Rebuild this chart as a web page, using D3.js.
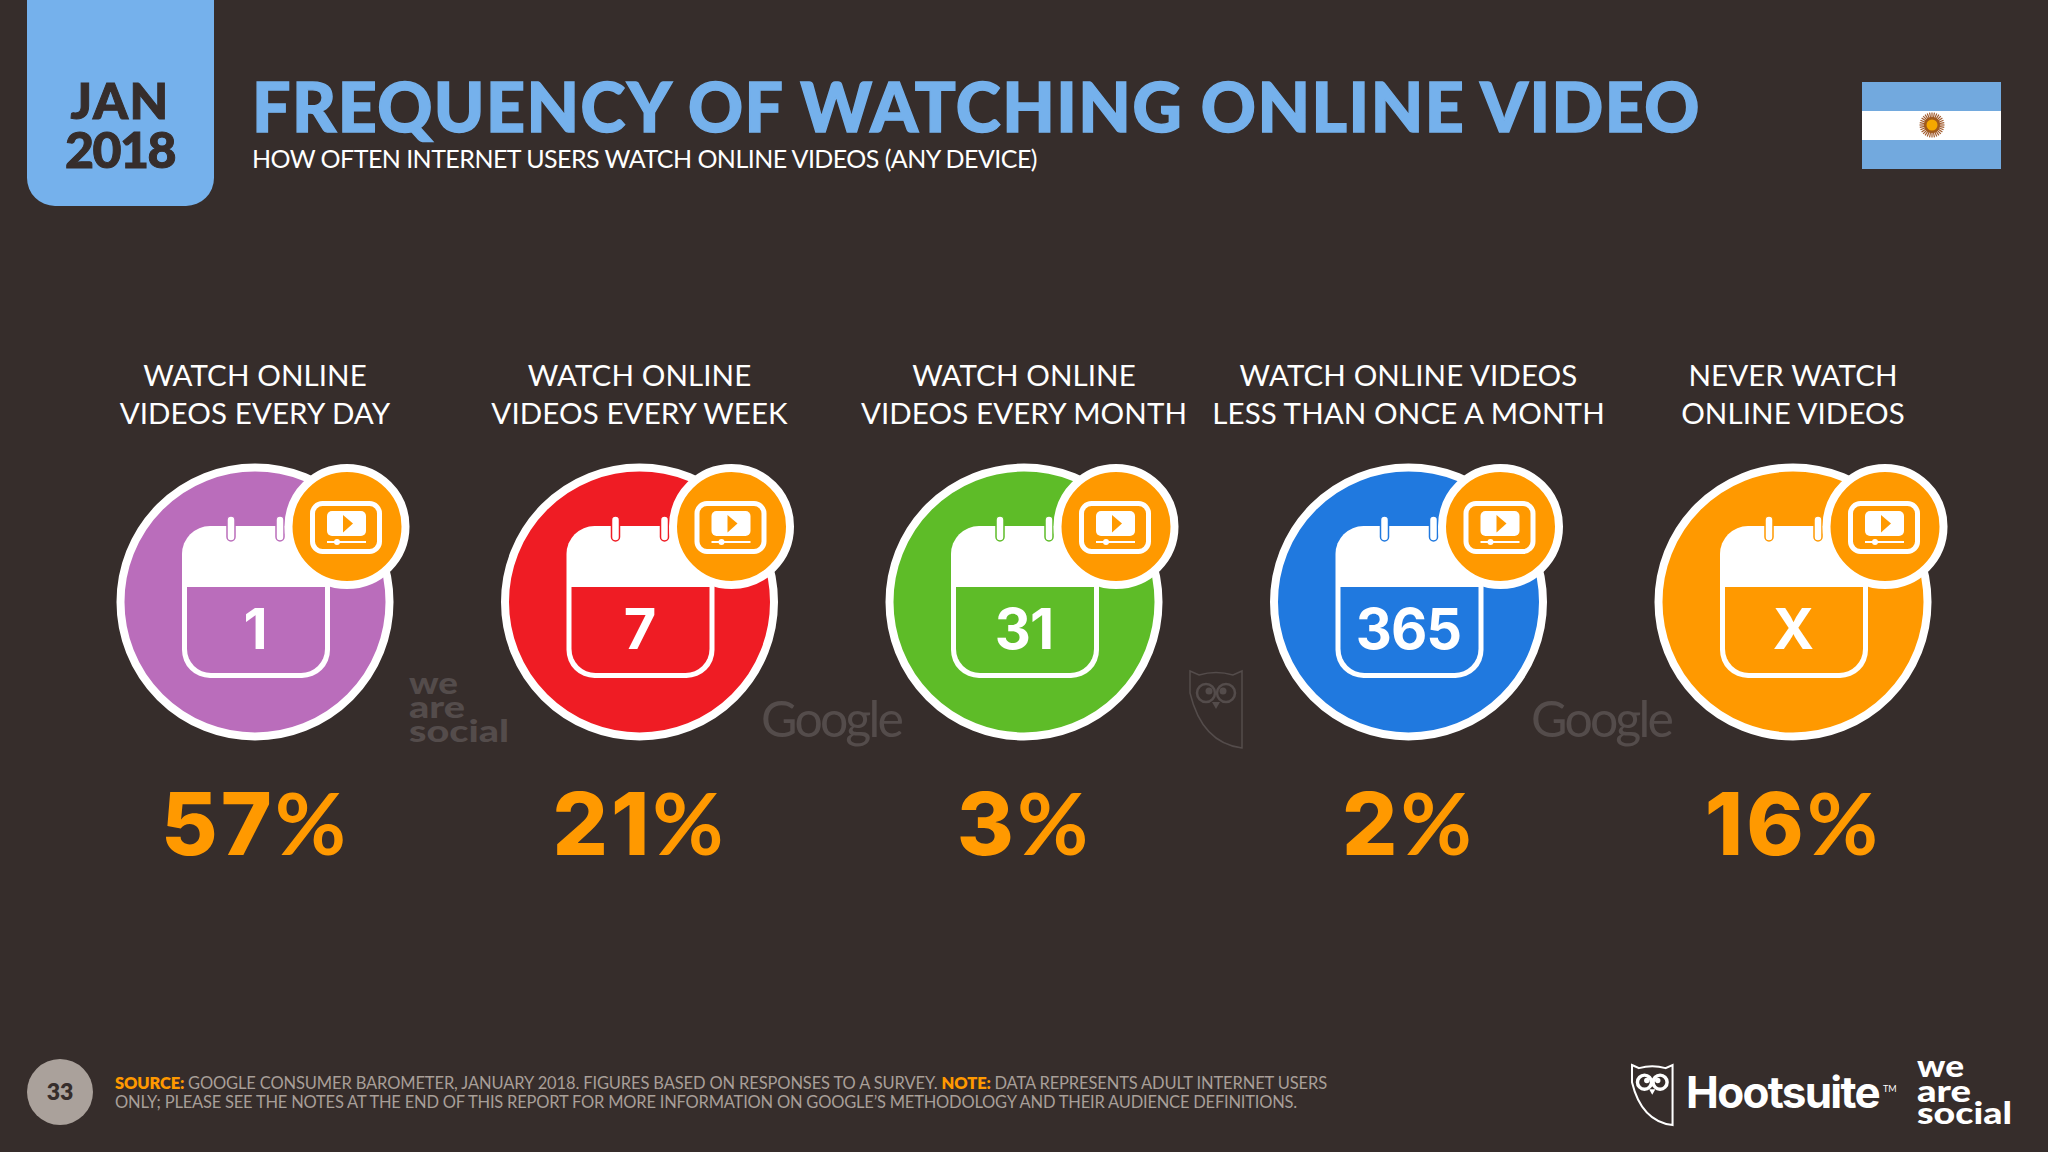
<!DOCTYPE html>
<html>
<head>
<meta charset="utf-8">
<script src="https://cdn.jsdelivr.net/npm/d3@7"></script>
<style>
  html, body { margin: 0; padding: 0; background: #362d2b; }
  svg { display: block; }
  text { font-family: Lato, sans-serif; }
</style>
</head>
<body>
<svg id="chart" width="2048" height="1152"></svg>
<script>
// Chart values
const categories = ['daily', 'weekly', 'monthly', 'rarely', 'never'];
const labelTop = ['WATCH ONLINE', 'WATCH ONLINE', 'WATCH ONLINE', 'WATCH ONLINE VIDEOS', 'NEVER WATCH'];
const labelBottom = ['VIDEOS EVERY DAY', 'VIDEOS EVERY WEEK', 'VIDEOS EVERY MONTH', 'LESS THAN ONCE A MONTH', 'ONLINE VIDEOS'];
const dayLabels = ['1', '7', '31', '365', 'X'];
const shares = [57, 21, 3, 2, 16];

const BG = '#362d2b';
const BLUE = '#75b1ec';
const ORANGE = '#ff9900';

const svg = d3.select('#chart');
const x = d3.scalePoint().domain(categories).range([255, 1793]);
const color = d3.scaleOrdinal()
    .domain(categories)
    .range(['#ba6dbb', '#ef1c24', '#5ebc28', '#2079df', '#ff9900']);

// Stretch or squeeze a text to a measured width with letter spacing
function fit(sel, width) {
    const node = sel.node();
    const n = node.textContent.length;
    const gap = (width - node.getComputedTextLength()) / n;
    sel.style('letter-spacing', gap + 'px');
    return sel;
}

svg.append('rect').attr('width', 2048).attr('height', 1152).attr('fill', BG);

// Date tab
svg.append('path')
    .attr('d', 'M27,0H214V178A28,28 0 0 1 186,206H55A28,28 0 0 1 27,178Z')
    .attr('fill', BLUE);
fit(svg.append('text').attr('x', 120).attr('y', 119).attr('text-anchor', 'middle')
    .attr('font-size', 50).attr('font-weight', 900).attr('fill', BG)
    .attr('stroke', BG).attr('stroke-width', 1).text('JAN'), 99);
fit(svg.append('text').attr('x', 120).attr('y', 168).attr('text-anchor', 'middle')
    .attr('font-size', 50).attr('font-weight', 900).attr('fill', BG)
    .attr('stroke', BG).attr('stroke-width', 1).text('2018'), 110);

// Title block
fit(svg.append('text').attr('x', 252).attr('y', 132)
    .attr('font-size', 68).attr('font-weight', 900).attr('fill', BLUE)
    .attr('stroke', BLUE).attr('stroke-width', 1.4)
    .text('FREQUENCY OF WATCHING ONLINE VIDEO'), 1449);
fit(svg.append('text').attr('x', 252).attr('y', 168)
    .attr('font-size', 25).attr('fill', '#fff')
    .text('HOW OFTEN INTERNET USERS WATCH ONLINE VIDEOS (ANY DEVICE)'), 785);

// Flag
svg.append('rect').attr('x', 1862).attr('y', 82).attr('width', 139).attr('height', 87).attr('fill', '#72a9de');
svg.append('rect').attr('x', 1862).attr('y', 111).attr('width', 139).attr('height', 29).attr('fill', '#fff');
const sun = svg.append('g').attr('transform', 'translate(1932,125)');
sun.selectAll('line').data(d3.range(32)).join('line')
    .attr('x2', d => 12.5 * Math.cos(d / 32 * 2 * Math.PI))
    .attr('y2', d => 12.5 * Math.sin(d / 32 * 2 * Math.PI))
    .attr('stroke', '#a05a2c').attr('stroke-width', 1.2);
sun.append('circle').attr('r', 8).attr('fill', '#a05a1c');
sun.append('circle').attr('r', 5.5).attr('fill', '#f5a800');

// Column labels
const labels = svg.append('g').selectAll('g').data(categories).join('g')
    .attr('transform', d => `translate(${x(d)},0)`)
    .attr('text-anchor', 'middle')
    .attr('fill', '#fff')
    .attr('font-size', 29.5)
    .style('letter-spacing', '0.1px');
labels.append('text').attr('y', 386).text((d, i) => labelTop[i]);
labels.append('text').attr('y', 424).text((d, i) => labelBottom[i]);

// Icons
const icons = svg.append('g').selectAll('g').data(categories).join('g')
    .attr('transform', d => `translate(${x(d)},602)`);

icons.append('circle').attr('r', 134.5).attr('fill', d => color(d))
    .attr('stroke', '#fff').attr('stroke-width', 8);

// Calendar
icons.append('rect').attr('x', -73).attr('y', -76).attr('width', 148).attr('height', 152)
    .attr('rx', 28).attr('fill', '#fff');
icons.append('path')
    .attr('d', 'M-68,-15H70V47A24,24 0 0 1 46,71H-44A24,24 0 0 1 -68,47Z')
    .attr('fill', d => color(d));
[-24, 25].forEach(dx => {
    icons.append('rect').attr('x', dx - 4).attr('y', -86).attr('width', 8).attr('height', 25)
        .attr('rx', 4).attr('fill', '#fff')
        .attr('stroke', d => color(d)).attr('stroke-width', 1.5);
});
icons.append('text').attr('x', 0).attr('y', 47).attr('text-anchor', 'middle')
    .attr('font-size', 56).attr('font-weight', 700).attr('fill', '#fff')
    .style('font-family', 'Inter, sans-serif')
    .style('letter-spacing', '-1px')
    .text((d, i) => dayLabels[i]);

// Video badge
const badge = icons.append('g').attr('transform', 'translate(92,-75.5)');
badge.append('circle').attr('r', 58.5).attr('fill', ORANGE).attr('stroke', '#fff').attr('stroke-width', 8);
badge.append('rect').attr('x', -34.5).attr('y', -23).attr('width', 67).attr('height', 48)
    .attr('rx', 10).attr('fill', 'none').attr('stroke', '#fff').attr('stroke-width', 5);
badge.append('rect').attr('x', -20).attr('y', -15.5).attr('width', 39).attr('height', 25)
    .attr('rx', 5).attr('fill', '#fff');
badge.append('path').attr('d', 'M-4,-11.5L6,-3L-4,6Z').attr('fill', ORANGE);
badge.append('line').attr('x1', -20).attr('x2', 19).attr('y1', 15.5).attr('y2', 15.5)
    .attr('stroke', '#fff').attr('stroke-width', 2);
badge.append('circle').attr('cx', -10).attr('cy', 15.5).attr('r', 3).attr('fill', '#fff');

// Percentages
const pct = svg.append('g').selectAll('text').data(categories).join('text')
    .attr('x', d => x(d))
    .attr('y', 855)
    .attr('text-anchor', 'middle')
    .attr('font-size', 87)
    .attr('font-weight', 800)
    .attr('fill', ORANGE)
    .style('font-family', 'Inter, sans-serif')
    .style('letter-spacing', '3px');
pct.append('tspan').text((d, i) => shares[i]);
pct.append('tspan').style('font-family', 'Lato, sans-serif').attr('font-weight', 700).text('%');

// Owl outline, used for the watermark and the footer logo
function owl(parent, tx, ty, k, stroke, sw) {
    const g = parent.append('g').attr('transform', `translate(${tx},${ty}) scale(${k})`)
        .attr('fill', 'none').attr('stroke', stroke);
    g.append('path').attr('stroke-width', sw)
        .attr('d', 'M0,0L9,4Q26,-1 43,4L52,0V77Q12,72 0,22Z');
    g.append('circle').attr('cx', 16).attr('cy', 22).attr('r', 9).attr('stroke-width', sw * 1.7);
    g.append('circle').attr('cx', 36).attr('cy', 22).attr('r', 9).attr('stroke-width', sw * 1.7);
    g.append('circle').attr('cx', 19).attr('cy', 20).attr('r', 3.5).attr('fill', stroke).attr('stroke', 'none');
    g.append('circle').attr('cx', 33).attr('cy', 20).attr('r', 3.5).attr('fill', stroke).attr('stroke', 'none');
    g.append('path').attr('d', 'M22,31H30L26,38Z').attr('fill', stroke).attr('stroke', 'none');
}

// "we are social" word mark, widened horizontally to the measured widths
function weAreSocial(parent, tx, ys, size, widths, fill) {
    const g = parent.append('g').attr('fill', fill).attr('font-size', size).attr('font-weight', 900)
        .style('font-family', 'Inter, sans-serif');
    ['we', 'are', 'social'].forEach((word, i) => {
        const t = g.append('text').text(word);
        const k = widths[i] / t.node().getComputedTextLength();
        t.attr('transform', `translate(${tx},${ys[i]}) scale(${k},1)`);
    });
}

// Watermarks
const MARK = '#544c4b';
weAreSocial(svg, 409, [694, 718, 742], 31, [49, 56, 100], MARK);
[761, 1531].forEach(mx => {
    fit(svg.append('text').attr('x', mx).attr('y', 737).attr('font-size', 50)
        .attr('fill', MARK).text('Google'), 140);
});
owl(svg, 1190, 671, 1, MARK, 1.5);

// Footer
svg.append('circle').attr('cx', 60).attr('cy', 1092).attr('r', 33).attr('fill', '#aaa19b');
svg.append('text').attr('x', 60).attr('y', 1100).attr('text-anchor', 'middle')
    .attr('font-size', 23).attr('font-weight', 800).attr('fill', BG).text('33');

const note1 = svg.append('text').attr('x', 115).attr('y', 1089).attr('font-size', 16.5).attr('fill', '#a89f99');
note1.append('tspan').attr('fill', ORANGE).attr('font-weight', 800).text('SOURCE: ');
note1.append('tspan').text('GOOGLE CONSUMER BAROMETER, JANUARY 2018. FIGURES BASED ON RESPONSES TO A SURVEY. ');
note1.append('tspan').attr('fill', ORANGE).attr('font-weight', 800).text('NOTE: ');
note1.append('tspan').text('DATA REPRESENTS ADULT INTERNET USERS');
fit(note1, 1212);
fit(svg.append('text').attr('x', 115).attr('y', 1108).attr('font-size', 16.5).attr('fill', '#a89f99')
    .text('ONLY; PLEASE SEE THE NOTES AT THE END OF THIS REPORT FOR MORE INFORMATION ON GOOGLE\u2019S METHODOLOGY AND THEIR AUDIENCE DEFINITIONS.'), 1182);

// Footer logos
owl(svg, 1632, 1065, 0.78, '#fff', 2.6);
fit(svg.append('text').attr('x', 1686).attr('y', 1108).attr('font-size', 44).attr('font-weight', 700)
    .attr('fill', '#fff').style('font-family', 'Inter, sans-serif').text('Hootsuite'), 193);
svg.append('text').attr('x', 1883).attr('y', 1092).attr('font-size', 9).attr('fill', '#fff').text('TM');
weAreSocial(svg, 1917, [1077, 1102, 1124], 31, [47, 54, 95], '#fff');
</script>
</body>
</html>
